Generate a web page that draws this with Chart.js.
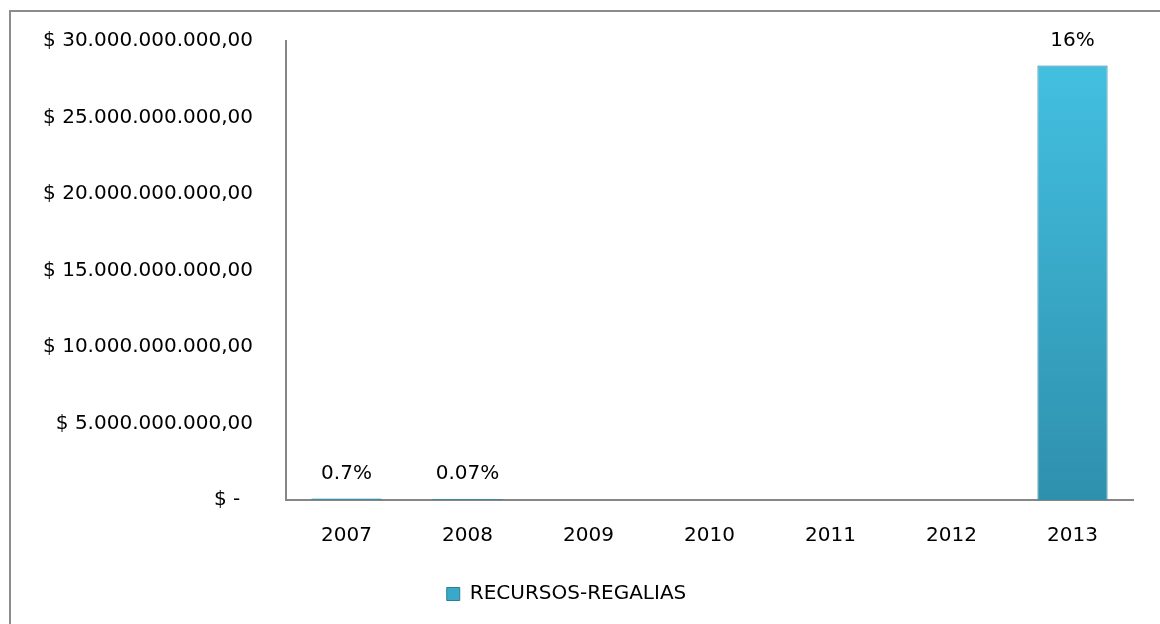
<!DOCTYPE html>
<html>
<head>
<meta charset="utf-8">
<script src="https://cdn.jsdelivr.net/npm/chart.js@4/dist/chart.umd.min.js"></script>
<style>
  body { margin: 0; background: #fff; }
  #wrap { position: relative; width: 1160px; height: 624px; overflow: hidden; }
  #frame { position: absolute; left: 9px; top: 10px; width: 1200px; height: 700px; border: 2px solid #8c8c8c; box-sizing: border-box; }
  canvas { position: absolute; left: 0; top: 0; }
</style>
</head>
<body>
<div id="wrap">
  <div id="frame"></div>
  <canvas id="chart" width="1160" height="624"></canvas>
</div>
<script>
// --- DATA ---
const years = ['2007', '2008', '2009', '2010', '2011', '2012', '2013'];
const regalias = [90000000, 70000000, 0, 0, 0, 0, 28400000000];
const pctLabels = ['0.7%', '0.07%', '', '', '', '', '16%'];
const seriesName = 'RECURSOS-REGALIAS';

const FONT = '"DejaVu Sans", sans-serif';
const FSIZE = 20;

const fmtMoney = (v) => {
    if (v === 0) return '$ -  ';
    return '$ ' + new Intl.NumberFormat('de-DE', { minimumFractionDigits: 2, maximumFractionDigits: 2 }).format(v);
};

// bar gradient (light top, darker bottom)
function barFill(ctx) {
    const area = ctx.chart.chartArea;
    if (!area) return '#3aa8c8';
    const g = ctx.chart.ctx.createLinearGradient(0, area.top, 0, area.bottom);
    g.addColorStop(0, '#44c2e3');
    g.addColorStop(1, '#2e90ad');
    return g;
}

// percentage labels above bars
const pctPlugin = {
    id: 'pctLabels',
    afterDatasetsDraw(chart) {
        const c = chart.ctx;
        const meta = chart.getDatasetMeta(0);
        c.save();
        c.font = FSIZE + 'px ' + FONT;
        c.fillStyle = '#000';
        c.textAlign = 'center';
        c.textBaseline = 'bottom';
        meta.data.forEach((bar, i) => {
            if (!pctLabels[i]) return;
            c.fillText(pctLabels[i], bar.x, bar.y - 15);
        });
        c.restore();
    }
};

new Chart(document.getElementById('chart'), {
    type: 'bar',
    data: {
        labels: years,
        datasets: [{
            label: seriesName,
            data: regalias,
            backgroundColor: barFill,
            borderColor: '#2a7f97',
            borderWidth: 1,
            categoryPercentage: 1,
            barPercentage: 0.58
        }]
    },
    options: {
        responsive: false,
        animation: false,
        layout: { padding: { top: 41, right: 27, bottom: 10, left: 0 } },
        plugins: {
            tooltip: { enabled: false },
            legend: {
                position: 'bottom',
                labels: {
                    font: { family: FONT, size: FSIZE },
                    color: '#000',
                    boxWidth: 13,
                    boxHeight: 13,
                    padding: 10,
                    generateLabels: () => [{
                        text: seriesName,
                        fillStyle: '#3aa8c8',
                        strokeStyle: '#2a7f97',
                        lineWidth: 1,
                        datasetIndex: 0
                    }]
                }
            }
        },
        scales: {
            y: {
                min: 0,
                max: 30000000000,
                grid: { display: false, drawTicks: false },
                border: { display: true, color: '#868686', width: 2 },
                ticks: {
                    stepSize: 5000000000,
                    padding: 33,
                    color: '#000',
                    font: { family: FONT, size: FSIZE },
                    callback: (v) => fmtMoney(v)
                },
                afterFit: (s) => { s.width = 286; s.paddingTop = 0; }
            },
            x: {
                grid: { display: false, drawTicks: false },
                border: { display: true, color: '#868686', width: 2 },
                ticks: {
                    padding: 24,
                    color: '#000',
                    font: { family: FONT, size: FSIZE }
                },
                afterFit: (s) => { s.height = 74; }
            }
        }
    },
    plugins: [pctPlugin]
});
</script>
</body>
</html>
